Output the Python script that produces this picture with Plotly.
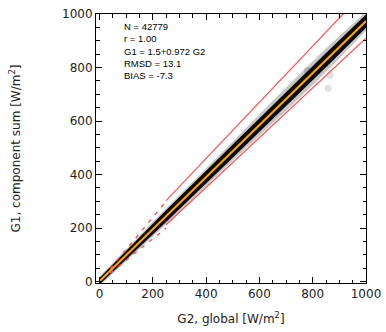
import plotly.graph_objects as go

# ---- data ----
fit_intercept = 1.5
fit_slope = 0.972
band_x = [0, 100, 250, 500, 700, 850, 1000]      # G2 positions along the dense point cloud
band_core = [12, 16, 22, 25, 27, 27, 25]          # half-height of the dark core [W/m2]
band_halo = [18, 23, 30, 36, 44, 44, 36]          # half-height of the grey fringe [W/m2]
outlier_g2 = [858, 866, 780, 560]
outlier_g1 = [723, 771, 790, 548]
dashed_x = [40, 250]                     # low-irradiance limit lines
dashed_factors = [0.8, 1.2]
solid_x = [250, 1000]                    # high-irradiance limit lines
solid_slopes = [0.93, 1.05]
solid_offsets = [-20, 40]
stats_lines = ["N = 42779", "r = 1.00", "G1 = 1.5+0.972 G2", "RMSD = 13.1", "BIAS = -7.3"]
x_ticks = [0, 200, 400, 600, 800, 1000]
y_ticks = [0, 200, 400, 600, 800, 1000]

fig = go.Figure()

center = [fit_intercept + fit_slope * v for v in band_x]


def add_band(half, color):
    lo = [c - h for c, h in zip(center, half)]
    hi = [c + h for c, h in zip(center, half)]
    fig.add_trace(go.Scatter(x=band_x + band_x[::-1], y=hi + lo[::-1], mode="lines",
                             fill="toself", fillcolor=color, line=dict(width=0),
                             hoverinfo="skip"))


add_band(band_halo, "rgba(0,0,0,0.22)")
add_band(band_core, "rgba(0,0,0,0.95)")
fig.add_trace(go.Scatter(x=outlier_g2, y=outlier_g1, mode="markers",
                         marker=dict(color="rgba(0,0,0,0.12)", size=7, line=dict(width=0)),
                         hoverinfo="skip"))

red = "rgba(255,60,60,0.9)"
for f in dashed_factors:
    fig.add_trace(go.Scatter(x=dashed_x, y=[f * v for v in dashed_x], mode="lines",
                             line=dict(color=red, width=1.4, dash="4px,6px"), hoverinfo="skip"))
for s, o in zip(solid_slopes, solid_offsets):
    fig.add_trace(go.Scatter(x=solid_x, y=[s * v + o for v in solid_x], mode="lines",
                             line=dict(color=red, width=1.2), hoverinfo="skip"))

# fit line
fig.add_trace(go.Scatter(x=band_x, y=center, mode="lines",
                         line=dict(color="#FFA500", width=2), hoverinfo="skip"))

axis_common = dict(
    showgrid=False, zeroline=False, showline=True, linecolor="black", linewidth=1,
    mirror="ticks", ticks="inside", ticklen=6, tickcolor="black", tickwidth=1,
    minor=dict(ticks="inside", ticklen=3.5, dtick=50, tickcolor="black", tickwidth=1),
    tickfont=dict(family="DejaVu Sans", size=12, color="#222"),
    automargin=False,
)

fig.update_layout(
    width=386, height=332,
    margin=dict(l=96, r=20, t=14, b=49),
    paper_bgcolor="white", plot_bgcolor="white",
    showlegend=False,
    xaxis=dict(axis_common, range=[-13, 1000], tickvals=x_ticks,
               title=dict(text="G2, global [W/m<sup>2</sup>]", standoff=14,
                          font=dict(family="DejaVu Sans", size=12, color="#222"))),
    yaxis=dict(axis_common, range=[-5, 1000], tickvals=y_ticks,
               title=dict(text="G1, component sum [W/m<sup>2</sup>]", standoff=38,
                          font=dict(family="DejaVu Sans", size=12, color="#222"))),
)

fig.add_annotation(xref="paper", yref="paper", x=0.095, y=0.98, xanchor="left", yanchor="top",
                   text="<br>".join(stats_lines), showarrow=False, align="left",
                   font=dict(family="Liberation Sans", size=9.5, color="black"))

fig.write_html("out.html")
